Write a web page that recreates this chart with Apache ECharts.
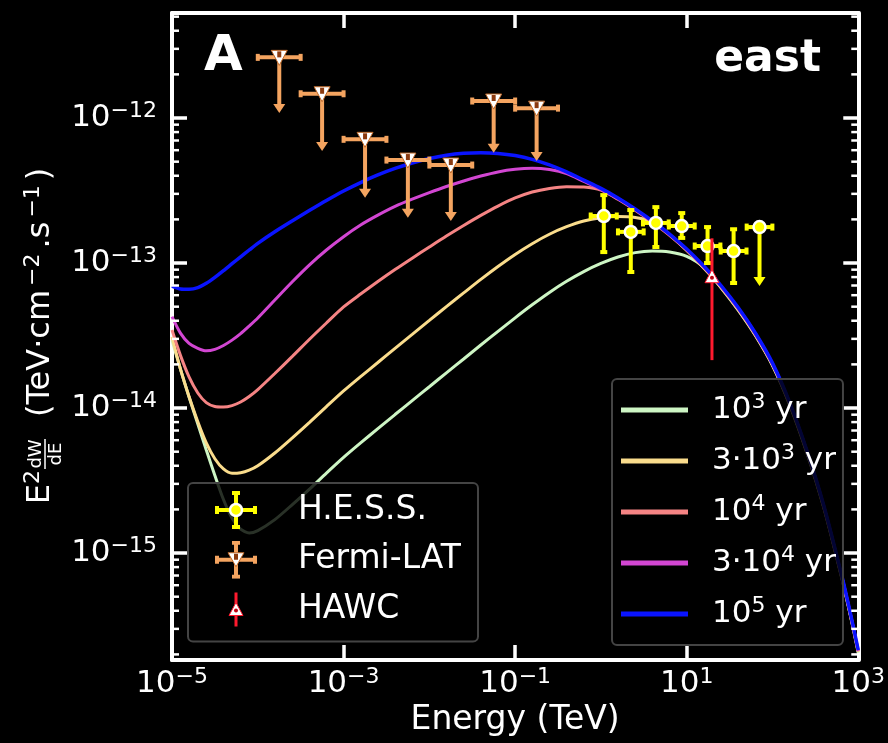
<!DOCTYPE html>
<html>
<head>
<meta charset="utf-8">
<title>A east</title>
<script src="https://cdn.jsdelivr.net/npm/echarts@6.0.0/dist/echarts.min.js"></script>
<style>
html, body { margin: 0; padding: 0; background: #000; }
#chart { width: 888px; height: 743px; }
</style>
</head>
<body>
<div id="chart"></div>
<script>
const FONT = 'DejaVu Sans';
// plotting unit for the flux axis (values below are in TeV cm^-2 s^-1)
const FLUX_UNIT_EXP = -16;
const SCALE = Math.pow(10, -FLUX_UNIT_EXP);

// ---------------- data ----------------
const energyTeV = [1.00e-5, 1.26e-5, 1.58e-5, 2.00e-5, 2.51e-5, 3.16e-5, 3.98e-5, 5.01e-5, 6.31e-5, 7.94e-5,
  1.00e-4, 1.58e-4, 2.51e-4, 3.98e-4, 6.31e-4, 1.00e-3, 1.58e-3, 2.51e-3, 3.98e-3, 6.31e-3,
  1.00e-2, 1.58e-2, 2.51e-2, 3.98e-2, 6.31e-2, 0.100, 0.158, 0.251, 0.398, 0.631,
  1.00, 1.58, 2.51, 3.98, 6.31, 10.0, 15.8, 25.1, 39.8, 63.1,
  100, 158, 251, 398, 631, 794, 1000];

const flux1e3yr = [2.94e-14, 1.84e-14, 1.19e-14, 7.76e-15, 5.13e-15, 3.43e-15, 2.34e-15, 1.74e-15, 1.46e-15, 1.374e-15,
  1.429e-15, 1.70e-15, 2.15e-15, 2.75e-15, 3.56e-15, 4.57e-15, 5.75e-15, 7.21e-15, 9.02e-15, 1.125e-14,
  1.403e-14, 1.75e-14, 2.18e-14, 2.72e-14, 3.38e-14, 4.19e-14, 5.15e-14, 6.27e-14, 7.48e-14, 8.73e-14,
  9.93e-14, 1.10e-13, 1.18e-13, 1.21e-13, 1.19e-13, 1.11e-13, 9.33e-14, 6.75e-14, 4.73e-14, 3.16e-14,
  1.96e-14, 1.056e-14, 4.92e-15, 2.03e-15, 6.99e-16, 3.89e-16, 2.05e-16];

const flux3e3yr = [3.10e-14, 1.84e-14, 1.20e-14, 8.04e-15, 5.75e-15, 4.47e-15, 3.80e-15, 3.55e-15, 3.58e-15, 3.73e-15,
  4.00e-15, 4.90e-15, 6.21e-15, 7.94e-15, 1.023e-14, 1.312e-14, 1.648e-14, 2.06e-14, 2.58e-14, 3.22e-14,
  4.02e-14, 5.01e-14, 6.22e-14, 7.71e-14, 9.46e-14, 1.146e-13, 1.36e-13, 1.58e-13, 1.78e-13, 1.95e-13,
  2.05e-13, 2.09e-13, 2.06e-13, 1.93e-13, 1.57e-13, 1.22e-13, 9.25e-14, 6.79e-14, 4.78e-14, 3.19e-14,
  1.98e-14, 1.067e-14, 4.98e-15, 2.05e-15, 7.06e-16, 3.93e-16, 2.08e-16];

const flux1e4yr = [3.45e-14, 2.29e-14, 1.64e-14, 1.27e-14, 1.09e-14, 1.024e-14, 1.016e-14, 1.04e-14, 1.10e-14, 1.20e-14,
  1.34e-14, 1.73e-14, 2.26e-14, 2.97e-14, 3.86e-14, 4.98e-14, 6.11e-14, 7.45e-14, 9.01e-14, 1.08e-13,
  1.29e-13, 1.535e-13, 1.815e-13, 2.13e-13, 2.47e-13, 2.81e-13, 3.09e-13, 3.27e-13, 3.36e-13, 3.34e-13,
  3.18e-13, 2.75e-13, 2.31e-13, 1.91e-13, 1.553e-13, 1.225e-13, 9.34e-14, 6.86e-14, 4.83e-14, 3.22e-14,
  2.00e-14, 1.078e-14, 5.03e-15, 2.07e-15, 7.13e-16, 3.97e-16, 2.10e-16];

const flux3e4yr = [4.27e-14, 3.27e-14, 2.79e-14, 2.58e-14, 2.48e-14, 2.54e-14, 2.70e-14, 2.94e-14, 3.26e-14, 3.68e-14,
  4.18e-14, 5.56e-14, 7.40e-14, 9.68e-14, 1.23e-13, 1.52e-13, 1.83e-13, 2.14e-13, 2.46e-13, 2.76e-13,
  3.06e-13, 3.37e-13, 3.68e-13, 3.98e-13, 4.25e-13, 4.43e-13, 4.50e-13, 4.41e-13, 4.14e-13, 3.65e-13,
  3.21e-13, 2.78e-13, 2.34e-13, 1.93e-13, 1.57e-13, 1.24e-13, 9.43e-14, 6.93e-14, 4.88e-14, 3.26e-14,
  2.02e-14, 1.09e-14, 5.08e-15, 2.09e-15, 7.21e-16, 4.01e-16, 2.12e-16];

const flux1e5yr = [6.93e-14, 6.62e-14, 6.59e-14, 6.76e-14, 7.24e-14, 7.96e-14, 8.85e-14, 9.89e-14, 1.104e-13, 1.23e-13,
  1.368e-13, 1.644e-13, 1.95e-13, 2.30e-13, 2.70e-13, 3.14e-13, 3.59e-13, 4.05e-13, 4.49e-13, 4.90e-13,
  5.26e-13, 5.54e-13, 5.71e-13, 5.77e-13, 5.70e-13, 5.51e-13, 5.19e-13, 4.75e-13, 4.25e-13, 3.73e-13,
  3.27e-13, 2.81e-13, 2.36e-13, 1.95e-13, 1.585e-13, 1.25e-13, 9.53e-14, 7.00e-14, 4.93e-14, 3.29e-14,
  2.04e-14, 1.10e-14, 5.13e-15, 2.11e-15, 7.28e-16, 4.05e-16, 2.14e-16];

const ageNames = ['10^3 yr', '3·10^3 yr', '10^4 yr', '3·10^4 yr', '10^5 yr'];
const ageColors = ['#cdf5c4', '#fadc8c', '#f58484', '#d246d2', '#0a14ff'];
const ageFlux = [flux1e3yr, flux3e3yr, flux1e4yr, flux3e4yr, flux1e5yr];

// H.E.S.S.
const hessE = [1.08, 2.23, 4.37, 8.75, 17.5, 35.2, 70.6];
const hessELow = [0.76, 1.58, 3.09, 6.19, 12.4, 24.9, 50.0];
const hessEHigh = [1.53, 3.15, 6.17, 12.4, 24.7, 49.8, 99.7];
const hessFlux = [2.11e-13, 1.64e-13, 1.89e-13, 1.80e-13, 1.31e-13, 1.21e-13, 1.77e-13];
const hessFluxLow = [1.19e-13, 8.67e-14, 1.29e-13, 1.49e-13, 1.00e-13, 7.28e-14, 7.64e-14];
const hessFluxHigh = [2.94e-13, 2.32e-13, 2.43e-13, 2.21e-13, 1.77e-13, 1.71e-13, 1.77e-13];
const hessUpperLimit = [0, 0, 0, 0, 0, 0, 1];

// Fermi-LAT (upper limits)
const fermiE = [1.78e-4, 5.62e-4, 1.78e-3, 5.62e-3, 1.78e-2, 5.62e-2, 0.178];
const fermiELow = [1.00e-4, 3.16e-4, 1.00e-3, 3.16e-3, 1.00e-2, 3.16e-2, 0.100];
const fermiEHigh = [3.16e-4, 1.00e-3, 3.16e-3, 1.00e-2, 3.16e-2, 0.100, 0.316];
const fermiUpperLimit = [2.62e-12, 1.47e-12, 7.13e-13, 5.13e-13, 4.74e-13, 1.31e-12, 1.17e-12];
const fermiArrowTo = [1.19e-12, 6.52e-13, 3.10e-13, 2.26e-13, 2.14e-13, 6.34e-13, 5.56e-13];

// HAWC
const hawcE = [19.7];
const hawcFlux = [8.05e-14];
const hawcFluxLow = [2.14e-14];
const hawcFluxHigh = [1.48e-13];

// axes
const xTickExponents = [-5, -3, -1, 1, 3];
const yTickExponents = [-15, -14, -13, -12];
const yMinorMantissas = [2, 3, 4, 5, 6, 7, 8, 9];
const yMinFlux = 1.83e-16, yMaxFlux = 5.3e-12;

// ---------------- helpers ----------------
const MINUS = '\u2212';
function expText(e) { return e < 0 ? MINUS + (-e) : String(e); }
function svgIcon(inner) {
  return 'image://data:image/svg+xml;charset=utf-8,' + encodeURIComponent(
    '<svg xmlns="http://www.w3.org/2000/svg" width="76" height="38" viewBox="0 0 76 38">' + inner + '</svg>');
}
const crossPath = 'M19 19H57M38 2V36M19 15V23M57 15V23M34 2H42M34 36H42';
const hessIcon = svgIcon('<path d="' + crossPath + '" stroke="#ffff00" stroke-width="4" fill="none"/>' +
  '<circle cx="38" cy="19" r="6" fill="#ffff00" stroke="#ffffff" stroke-width="2.5"/>');
const fermiIcon = svgIcon('<path d="' + crossPath + '" stroke="#f4a460" stroke-width="4" fill="none"/>' +
  '<path d="M30 12H46L38 26Z" fill="#ffffff" stroke="#c06a2a" stroke-width="1"/>' +
  '<rect x="36" y="13" width="4" height="6" fill="#8b3a0f"/>');
const hawcIcon = svgIcon('<path d="M38 2V36" stroke="#ff1a2e" stroke-width="3"/>' +
  '<path d="M31 25H45L38 12Z" fill="#ffffff" stroke="#ff1a2e" stroke-width="1"/>' +
  '<circle cx="38" cy="20" r="2" fill="#c00010"/>');

function seg(x1, y1, x2, y2, color, w) {
  return { type: 'line', shape: { x1, y1, x2, y2 }, style: { stroke: color, lineWidth: w } };
}

// minor tick values of the log flux axis (2..9 x 10^n inside the axis range)
const yMinorTickValues = [];
for (let d = Math.floor(Math.log10(yMinFlux)); d <= Math.ceil(Math.log10(yMaxFlux)); d++) {
  yMinorMantissas.forEach(m => {
    const v = m * Math.pow(10, d);
    if (v > yMinFlux && v < yMaxFlux) yMinorTickValues.push(v);
  });
}

// ---------------- series ----------------
const curveSeries = ageNames.map((name, k) => ({
  type: 'line', name, xAxisIndex: 0, yAxisIndex: 0,
  data: energyTeV.map((e, i) => [e, ageFlux[k][i] * SCALE]),
  showSymbol: false, symbol: 'none', smooth: 0.25,
  lineStyle: { color: ageColors[k], width: k === 4 ? 3.5 : 3 },
  itemStyle: { color: ageColors[k] },
  z: 2, silent: true
}));

const minorTickSeries = {
  type: 'custom', name: 'minor ticks', xAxisIndex: 0, yAxisIndex: 0, z: 3, silent: true,
  data: yMinorTickValues.map(v => [energyTeV[0], v * SCALE]),
  renderItem: (params, api) => {
    const cs = params.coordSys;
    const y = api.coord([api.value(0), api.value(1)])[1];
    const L = 7, col = '#ffffff', w = 2.5;
    return { type: 'group', children: [
      seg(cs.x, y, cs.x + L, y, col, w),
      seg(cs.x + cs.width - L, y, cs.x + cs.width, y, col, w)
    ] };
  }
};

const hessSeries = {
  type: 'custom', name: 'H.E.S.S.', xAxisIndex: 0, yAxisIndex: 0, z: 5,
  data: hessE.map((e, i) => [e, hessFlux[i] * SCALE, hessELow[i], hessEHigh[i],
    hessFluxLow[i] * SCALE, hessFluxHigh[i] * SCALE, hessUpperLimit[i]]),
  itemStyle: { color: '#ffff00' },
  renderItem: (params, api) => {
    const col = '#ffff00', lw = 4, cap = 3.5;
    const f = api.value(1);
    const c = api.coord([api.value(0), f]);
    const xl = api.coord([api.value(2), f])[0];
    const xh = api.coord([api.value(3), f])[0];
    const yl = api.coord([api.value(0), api.value(4)])[1];
    const ul = api.value(6) === 1;
    const yh = ul ? c[1] : api.coord([api.value(0), api.value(5)])[1];
    const ch = [
      seg(xl, c[1], xh, c[1], col, lw),
      seg(xl, c[1] - cap, xl, c[1] + cap, col, lw),
      seg(xh, c[1] - cap, xh, c[1] + cap, col, lw),
      seg(c[0], yh, c[0], yl, col, lw)
    ];
    if (!ul) {
      ch.push(seg(c[0] - cap, yh, c[0] + cap, yh, col, lw), seg(c[0] - cap, yl, c[0] + cap, yl, col, lw));
    } else {
      ch.push({ type: 'polygon', shape: { points: [[c[0] - 6, yl - 3], [c[0] + 6, yl - 3], [c[0], yl + 6]] }, style: { fill: col } });
    }
    ch.push({ type: 'circle', shape: { cx: c[0], cy: c[1], r: 6 }, style: { fill: col, stroke: '#ffffff', lineWidth: 2.5 } });
    return { type: 'group', children: ch };
  }
};

const fermiSeries = {
  type: 'custom', name: 'Fermi-LAT', xAxisIndex: 0, yAxisIndex: 0, z: 5,
  data: fermiE.map((e, i) => [e, fermiUpperLimit[i] * SCALE, fermiELow[i], fermiEHigh[i], fermiArrowTo[i] * SCALE]),
  itemStyle: { color: '#f4a460' },
  renderItem: (params, api) => {
    const col = '#f4a460', lw = 4, cap = 3.5;
    const f = api.value(1);
    const c = api.coord([api.value(0), f]);
    const xl = api.coord([api.value(2), f])[0];
    const xh = api.coord([api.value(3), f])[0];
    const yl = api.coord([api.value(0), api.value(4)])[1];
    const ch = [
      seg(xl, c[1], xh, c[1], col, lw),
      seg(xl, c[1] - cap, xl, c[1] + cap, col, lw),
      seg(xh, c[1] - cap, xh, c[1] + cap, col, lw),
      seg(c[0], c[1], c[0], yl, col, lw),
      { type: 'polygon', shape: { points: [[c[0] - 6, yl - 3], [c[0] + 6, yl - 3], [c[0], yl + 6]] }, style: { fill: col } },
      { type: 'polygon', shape: { points: [[c[0] - 8, c[1] - 7], [c[0] + 8, c[1] - 7], [c[0], c[1] + 8]] },
        style: { fill: '#ffffff', stroke: '#c06a2a', lineWidth: 1 } },
      { type: 'rect', shape: { x: c[0] - 2, y: c[1] - 6, width: 4, height: 6 }, style: { fill: '#8b3a0f' } }
    ];
    return { type: 'group', children: ch };
  }
};

const hawcSeries = {
  type: 'custom', name: 'HAWC', xAxisIndex: 0, yAxisIndex: 0, z: 5,
  data: hawcE.map((e, i) => [e, hawcFlux[i] * SCALE, hawcFluxLow[i] * SCALE, hawcFluxHigh[i] * SCALE]),
  itemStyle: { color: '#ff1a2e' },
  renderItem: (params, api) => {
    const col = '#ff1a2e';
    const c = api.coord([api.value(0), api.value(1)]);
    const yl = api.coord([api.value(0), api.value(2)])[1];
    const yh = api.coord([api.value(0), api.value(3)])[1];
    return { type: 'group', children: [
      seg(c[0], yh, c[0], yl, col, 3),
      { type: 'polygon', shape: { points: [[c[0] - 7, c[1] + 6], [c[0] + 7, c[1] + 6], [c[0], c[1] - 7]] },
        style: { fill: '#ffffff', stroke: col, lineWidth: 1 } },
      { type: 'circle', shape: { cx: c[0], cy: c[1] + 1, r: 2 }, style: { fill: '#c00010' } }
    ] };
  }
};

// ---------------- axes ----------------
const tickRich = {
  b: { fontSize: 31, lineHeight: 36, color: '#fff', fontFamily: FONT },
  s: { fontSize: 22, lineHeight: 18, verticalAlign: 'top', color: '#fff', fontFamily: FONT }
};
function yLabel(v) {
  const e = Math.log10(v), r = Math.round(e);
  if (Math.abs(e - r) > 1e-6) return '';
  const exp = r + FLUX_UNIT_EXP;
  if (yTickExponents.indexOf(exp) < 0) return '';
  return '{b|10}{s|' + expText(exp) + '}';
}
const xValueMin = 0, xValueMax = (xTickExponents.length - 1) * 2;
function xLabel(v) {
  const idx = Math.round(v / 2);
  if (Math.abs(v / 2 - idx) > 1e-6 || idx < 0 || idx >= xTickExponents.length) return '';
  return '{b|10}{s|' + expText(xTickExponents[idx]) + '}';
}
const frameLine = { show: true, onZero: false, lineStyle: { color: '#ffffff', width: 4 } };
const majorTick = { show: true, inside: true, length: 15, lineStyle: { color: '#ffffff', width: 3.5 } };

const yAxisBase = {
  type: 'log', logBase: 10, min: yMinFlux * SCALE, max: yMaxFlux * SCALE,
  axisLine: frameLine, axisTick: majorTick, minorTick: { show: false },
  splitLine: { show: false }, minorSplitLine: { show: false }
};

const option = {
  backgroundColor: '#000000',
  animation: false,
  textStyle: { fontFamily: FONT },
  grid: { left: 172, right: 28, top: 13, bottom: 83, containLabel: false },
  xAxis: [
    { type: 'log', logBase: 10, min: energyTeV[0], max: energyTeV[energyTeV.length - 1], show: false, gridIndex: 0 },
    { type: 'value', min: xValueMin, max: xValueMax, interval: 2, position: 'bottom', gridIndex: 0,
      axisLine: frameLine, axisTick: majorTick, splitLine: { show: false },
      axisLabel: { show: true, margin: 6, formatter: xLabel, rich: tickRich, color: '#fff' },
      name: 'Energy (TeV)', nameLocation: 'middle', nameGap: 44,
      nameTextStyle: { color: '#fff', fontSize: 33, fontFamily: FONT } },
    { type: 'value', min: xValueMin, max: xValueMax, interval: 2, position: 'top', gridIndex: 0,
      axisLine: frameLine, axisTick: majorTick, splitLine: { show: false }, axisLabel: { show: false } }
  ],
  yAxis: [
    Object.assign({}, yAxisBase, { position: 'left',
      axisLabel: { show: true, margin: 15, formatter: yLabel, rich: tickRich, color: '#fff' } }),
    Object.assign({}, yAxisBase, { position: 'right', axisLabel: { show: false } })
  ],
  legend: [
    {
      orient: 'vertical', left: 188, top: 483,
      itemWidth: 76, itemHeight: 38, itemGap: 11.75,
      padding: [8, 17, 13, 10],
      backgroundColor: 'rgba(0,0,0,0.8)', borderColor: '#444444', borderWidth: 2, borderRadius: 5,
      selectedMode: false,
      textStyle: { color: '#ffffff', fontSize: 33, fontFamily: FONT, lineHeight: 38, padding: [0, 0, 0, 19] },
      data: [
        { name: 'H.E.S.S.', icon: hessIcon },
        { name: 'Fermi-LAT', icon: fermiIcon },
        { name: 'HAWC', icon: hawcIcon }
      ]
    },
    {
      orient: 'vertical', left: 612, top: 379,
      itemWidth: 67, itemHeight: 38, itemGap: 13,
      padding: [12, 7, 12, 9],
      backgroundColor: 'rgba(0,0,0,0.8)', borderColor: '#444444', borderWidth: 2, borderRadius: 5,
      selectedMode: false, symbolKeepAspect: true,
      icon: 'path://M0 0H67V5H0Z',
      formatter: name => name.replace(/\^(\d+)/, '{s|$1}'),
      textStyle: { color: '#ffffff', fontSize: 31, fontFamily: FONT, lineHeight: 38, padding: [0, 0, 0, 19],
        rich: { s: { fontSize: 22, lineHeight: 20, verticalAlign: 'top', color: '#ffffff', fontFamily: FONT } } },
      data: ageNames
    }
  ],
  graphic: [
    { type: 'text', x: 204, y: 57, silent: true,
      style: { text: 'A', fill: '#ffffff', fontSize: 50, fontWeight: 'bold', fontFamily: FONT, align: 'left', verticalAlign: 'middle' } },
    { type: 'text', x: 821, y: 60, silent: true,
      style: { text: 'east', fill: '#ffffff', fontSize: 44, fontWeight: 'bold', fontFamily: FONT, align: 'right', verticalAlign: 'middle' } },
    { type: 'group', x: 43, y: 337, rotation: Math.PI / 2, silent: true, children: [
      { type: 'text', x: -133, y: -2, style: { text: 'E{s|2}', fill: '#fff', fontSize: 32, fontFamily: FONT, lineHeight: 38,
        align: 'right', verticalAlign: 'middle',
        rich: { s: { fontSize: 22, lineHeight: 19, verticalAlign: 'top', fill: '#fff', fontFamily: FONT } } } },
      { type: 'text', x: -117, y: -7, style: { text: 'dW', fill: '#fff', fontSize: 18, fontFamily: FONT, align: 'center', verticalAlign: 'middle' } },
      { type: 'line', shape: { x1: -132, y1: 2, x2: -102, y2: 2 }, style: { stroke: '#fff', lineWidth: 1.5 } },
      { type: 'text', x: -117, y: 13, style: { text: 'dE', fill: '#fff', fontSize: 18, fontFamily: FONT, align: 'center', verticalAlign: 'middle' } },
      { type: 'text', x: -80, y: -2, style: { text: '(TeV·cm{s|' + MINUS + '2}.s{s|' + MINUS + '1})', fill: '#fff', fontSize: 32,
        fontFamily: FONT, lineHeight: 38, align: 'left', verticalAlign: 'middle',
        rich: { s: { fontSize: 22, lineHeight: 19, verticalAlign: 'top', fill: '#fff', fontFamily: FONT, padding: [0, 5, 0, 4] } } } }
    ] }
  ],
  series: curveSeries.concat([minorTickSeries, hessSeries, fermiSeries, hawcSeries])
};

const chart = echarts.init(document.getElementById('chart'), null, { renderer: 'canvas' });
chart.setOption(option);
</script>
</body>
</html>
